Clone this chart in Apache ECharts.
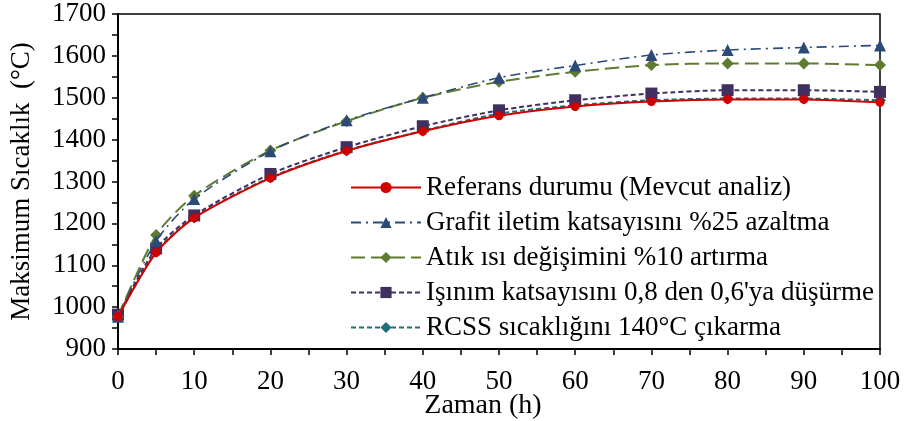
<!DOCTYPE html>
<html><head><meta charset="utf-8">
<script src="https://cdn.jsdelivr.net/npm/echarts@6/dist/echarts.min.js"></script>
<style>html,body{margin:0;padding:0;background:#fff}#c{width:905px;height:421px}</style>
</head><body><div id="c"></div>
<script>
const times = [0, 5, 10, 20, 30, 40, 50, 60, 70, 80, 90, 100];
const seriesNames = [
  'Referans durumu (Mevcut analiz)',
  'Grafit iletim katsayısını %25 azaltma',
  'Atık ısı değişimini %10 artırma',
  'Işınım katsayısını 0,8 den 0,6\'ya düşürme',
  'RCSS sıcaklığını 140°C çıkarma'
];
const referans = [977, 1130, 1213, 1308, 1373, 1420, 1457, 1479, 1491, 1496, 1496, 1489];
const grafit   = [977, 1158, 1258, 1372, 1446, 1500, 1548, 1577, 1602, 1614, 1620, 1625];
const atik     = [977, 1172, 1266, 1374, 1444, 1500, 1538, 1562, 1578, 1582, 1582, 1578];
const isinim   = [982, 1140, 1219, 1318, 1382, 1432, 1470, 1494, 1510, 1518, 1518, 1514];
const rcss     = [977, 1132, 1214, 1310, 1374, 1421, 1462, 1482, 1494, 1498, 1498, 1494];
const xTitle = 'Zaman (h)';
const yTitle = 'Maksimum Sıcaklık  (°C)';

const font = 'Liberation Serif';
const pair = arr => times.map((t, i) => [t, arr[i]]);
const styles = [
  {color: '#d00000', type: 'solid', symbol: 'circle', size: 9, width: 2},
  {color: '#2b4a78', type: [10, 5, 2, 5], symbol: 'triangle', size: 12, width: 1.6},
  {color: '#5f7a31', type: [14, 6], symbol: 'diamond', size: 12, width: 2},
  {color: '#41305f', type: [5, 3], symbol: 'rect', size: 12, width: 2},
  {color: '#1f6e7c', type: [5, 3], symbol: 'diamond', size: 12, width: 2}
];
const datas = [referans, grafit, atik, isinim, rcss];
const chart = echarts.init(document.getElementById('c'));
chart.setOption({
  animation: false,
  backgroundColor: '#fff',
  grid: {left: 118, right: 25, top: 14, bottom: 72, show: true, borderColor: '#000', borderWidth: 1.5,
         backgroundColor: 'transparent', containLabel: false, outerBoundsMode: 'none'},
  legend: {
    orient: 'vertical', left: 345, top: 169, itemWidth: 70, itemHeight: 14, itemGap: 8,
    textStyle: {fontFamily: font, fontSize: 27, color: '#000'},
    data: seriesNames
  },
  xAxis: {
    type: 'value', min: 0, max: 100, interval: 10,
    name: xTitle, nameLocation: 'middle', nameGap: 43, nameMoveOverlap: false,
    nameTextStyle: {fontFamily: font, fontSize: 28, color: '#000', padding: [0, 32, 0, 0]},
    axisLine: {lineStyle: {color: '#000', width: 2}},
    axisTick: {length: 6, lineStyle: {color: '#000', width: 1.5}},
    minorTick: {show: true, splitNumber: 2, length: 6, lineStyle: {color: '#000', width: 1.5}},
    axisLabel: {fontFamily: font, fontSize: 27, color: '#000', margin: 19},
    splitLine: {show: false}
  },
  yAxis: {
    type: 'value', min: 900, max: 1700, interval: 100,
    name: yTitle, nameLocation: 'middle', nameGap: 83, nameRotate: 90, nameMoveOverlap: false,
    nameTextStyle: {fontFamily: font, fontSize: 27, color: '#000'},
    axisLine: {show: true, lineStyle: {color: '#000', width: 2}},
    axisTick: {show: true, length: 6, lineStyle: {color: '#000', width: 1.5}},
    minorTick: {show: true, splitNumber: 2, length: 6, lineStyle: {color: '#000', width: 1.5}},
    axisLabel: {fontFamily: font, fontSize: 27, color: '#000', margin: 12, formatter: v => String(v)},
    splitLine: {show: false}
  },
  series: datas.map((d, i) => ({
    name: seriesNames[i], type: 'line', smooth: 0.25,
    data: pair(d),
    symbol: styles[i].symbol, symbolSize: styles[i].size,
    itemStyle: {color: styles[i].color},
    lineStyle: {color: styles[i].color, type: styles[i].type, width: styles[i].width},
    z: 10 - i
  }))
});
</script></body></html>
